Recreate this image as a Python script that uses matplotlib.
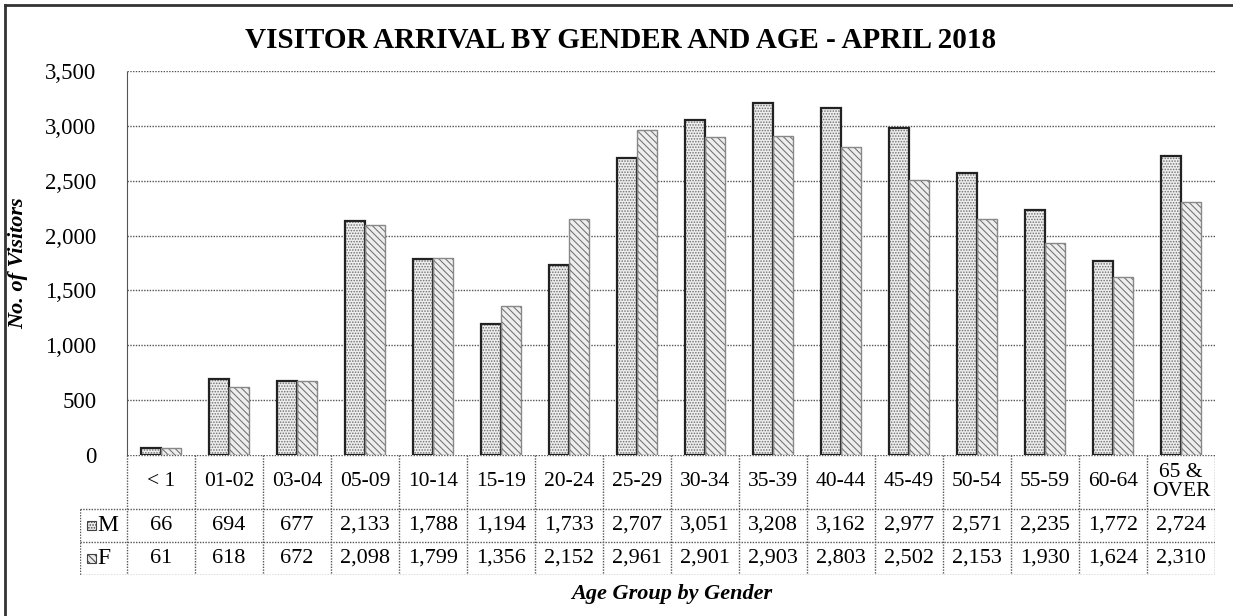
import matplotlib.pyplot as plt
import numpy as np
from matplotlib.lines import Line2D
from matplotlib.patches import Rectangle

# data
age_groups = ["< 1", "01-02", "03-04", "05-09", "10-14", "15-19", "20-24", "25-29",
              "30-34", "35-39", "40-44", "45-49", "50-54", "55-59", "60-64", "65 &\nOVER"]
male = [66, 694, 677, 2133, 1788, 1194, 1733, 2707, 3051, 3208, 3162, 2977, 2571, 2235, 1772, 2724]
female = [61, 618, 672, 2098, 1799, 1356, 2152, 2961, 2901, 2903, 2803, 2502, 2153, 1930, 1624, 2310]
y_ticks = [0, 500, 1000, 1500, 2000, 2500, 3000, 3500]

plt.rcParams['font.family'] = ['Liberation Serif', 'DejaVu Serif']
plt.rcParams['hatch.linewidth'] = 0.75

W, H = 1233, 616
fig = plt.figure(figsize=(W / 100, H / 100), dpi=100)

def px_box(x0, y0, x1, y1):
    return [x0 / W, 1 - y1 / H, (x1 - x0) / W, (y1 - y0) / H]

grid_col = '#555555'
dots = (0, (1, 1))
m_hatch = '......'
f_hatch = '\\\\\\\\\\'

ax = fig.add_axes(px_box(127, 71, 1215, 455))
x = np.arange(len(age_groups))
bw = 0.3
# hatched fills, then outlines
ax.bar(x - bw / 2, male, bw, color='#eeeeee', edgecolor='#707070', hatch=m_hatch, linewidth=0.6, zorder=3)
ax.bar(x + bw / 2, female, bw, color='#eeeeee', edgecolor='#707070', hatch=f_hatch, linewidth=0.6, zorder=3)
ax.bar(x - bw / 2, male, bw, fill=False, edgecolor='#222222', linewidth=1.6, zorder=4)
ax.bar(x + bw / 2, female, bw, fill=False, edgecolor='#888888', linewidth=1.0, zorder=4)

ax.set_xlim(-0.5, len(age_groups) - 0.5)
ax.set_ylim(0, 3500)
ax.set_yticks(y_ticks)
ax.set_yticklabels([f"{v:,}" for v in y_ticks], fontsize=16.5)
ax.tick_params(axis='y', length=0, pad=22)
ax.set_xticks([])
for v in y_ticks[1:]:
    ax.axhline(v, color=grid_col, lw=1.0, ls=dots, zorder=1)
for s in ['top', 'right', 'bottom']:
    ax.spines[s].set_visible(False)
ax.spines['left'].set_color(grid_col)
ax.spines['left'].set_linestyle(dots)
ax.patch.set_alpha(0)

fig.text(621 / W, 1 - 40 / H, "VISITOR ARRIVAL BY GENDER AND AGE - APRIL 2018", fontsize=21,
         fontweight='bold', ha='center', va='center')
fig.text(18 / W, 1 - 263 / H, "No. of Visitors", rotation=90, ha='center', va='center',
         fontsize=16, fontweight='bold', fontstyle='italic')
fig.text(672 / W, 1 - 594 / H, "Age Group by Gender", ha='center', va='center',
         fontsize=16, fontweight='bold', fontstyle='italic')

# data table under the chart
n = len(age_groups)
leg_w = 47 / 68
xl = -0.5 - leg_w
tab = fig.add_axes(px_box(80, 455, 1215, 575))
tab.set_xlim(xl, n - 0.5)
tab.set_ylim(120, 0)
tab.axis('off')
r1, r2, r3 = 54, 87, 120
lk = dict(color=grid_col, lw=1.0, ls=dots)
tab.plot([-0.5, n - 0.5], [0, 0], **lk)
for yy in (r1, r2, r3):
    tab.plot([xl, n - 0.5], [yy, yy], **lk)
for i in range(n + 1):
    tab.plot([i - 0.5, i - 0.5], [0, r3], **lk)
tab.plot([xl, xl], [r1, r3], **lk)

for i, g in enumerate(age_groups):
    tab.text(i, r1 / 2, g, ha='center', va='center', fontsize=15.5, linespacing=1.0)
    tab.text(i, (r1 + r2) / 2, f"{male[i]:,}", ha='center', va='center', fontsize=16)
    tab.text(i, (r2 + r3) / 2, f"{female[i]:,}", ha='center', va='center', fontsize=16)

for (y0, y1), lab, hat in [((r1, r2), "M", m_hatch), ((r2, r3), "F", f_hatch)]:
    yc = (y0 + y1) / 2
    tab.add_patch(Rectangle((xl + 0.1, yc - 4.5), 0.13, 9, facecolor='#ececec',
                            edgecolor='#444444', hatch=hat, lw=0.8))
    tab.text(xl + 0.26, yc, lab, ha='left', va='center', fontsize=17)

# page frame (left and top edges of the scan)
fig.add_artist(Line2D([5 / W, 5 / W], [0, 1 - 5 / H], color='#333333', lw=2))
fig.add_artist(Line2D([5 / W, 1], [1 - 5 / H, 1 - 5 / H], color='#333333', lw=2))

fig.savefig("out.png", dpi=100)
